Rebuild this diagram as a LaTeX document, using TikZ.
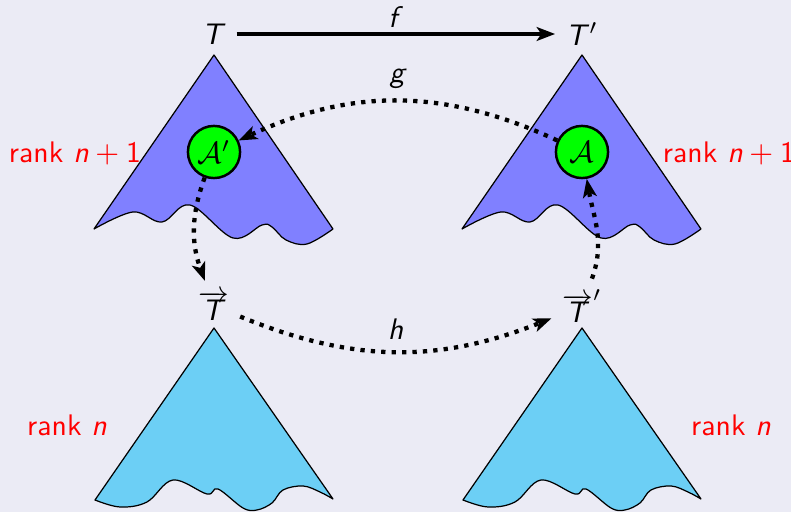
\documentclass[tikz,border=0pt]{standalone}
\usetikzlibrary{arrows.meta}
\definecolor{slidebg}{RGB}{235,235,245}
\definecolor{treeblue}{RGB}{128,128,255}
\definecolor{treecyan}{RGB}{108,207,245}
\newcommand{\sv}[1]{\textsf{\textit{#1}}}
\tikzset{
    upper tree/.pic={
        \filldraw[fill=#1, line join=round] (0,0) -- plot[smooth, tension=0.6] coordinates {
            (-120,-174) (-81,-157) (-52,-167) (-24,-150) (19,-183)
            (48,-170) (58,-172) (72,-185) (93,-189) (119,-174)} -- cycle;
    },
    lower tree/.pic={
        \filldraw[fill=#1, line join=round] (0,0) -- plot[smooth, tension=0.6] coordinates {
            (-119,-172) (-94,-179) (-67,-174) (-41,-152) (-7,-166) (4,-161)
            (29,-180) (43,-182) (58,-175) (69,-162) (89,-158) (106,-164) (119,-171)} -- cycle;
    }
}
\begin{document}
\begin{tikzpicture}[
        x=0.326pt, y=0.326pt,
        font=\fontsize{9.7pt}{11.5pt}\sffamily,
        >={Stealth[length=6pt,width=4.5pt,inset=1.5pt]},
        subtree/.style={circle, draw, thick, fill=green, minimum size=17pt, inner sep=0pt},
        rank/.style={text=red},
        map/.style={->, line width=1.2pt},
        dotmap/.style={->, line width=1.4pt, dotted}
    ]
        \useasboundingbox[fill=slidebg] (0,0) rectangle (791,512);
        \pic at (214,457) {upper tree=treeblue};
        \pic at (582,457) {upper tree=treeblue};
        \pic at (214,184) {lower tree=treecyan};
        \pic at (582,184) {lower tree=treecyan};
        \node (T) at (214,478) {\sv{T}};
        \node (Tp) at (582,478) {\sv{T}$'$};
        \node (vT) at (214,206) {$\overrightarrow{\mbox{\sv{T}}}$};
        \node (vTp) at (582,206) {$\overrightarrow{\mbox{\sv{T}}}'$};
        \node[subtree] (Ap) at (214,360) {$\mathcal{A}'$};
        \node[subtree] (A) at (582,360) {$\mathcal{A}$};
        \node[rank] (r1) at (75,359) {rank \sv{n}${}+{}$1};
        \node[rank] (r2) at (729,359) {rank \sv{n}${}+{}$1};
        \node[rank] (r3) at (67,87) {rank \sv{n}};
        \node[rank] (r4) at (731,87) {rank \sv{n}};
        \draw[map] (T) -- node[above, inner sep=1.5pt] {\sv{f}} (Tp);
        \draw[dotmap] (A) to[bend right=25] node[above] {\sv{g}} (Ap);
        \draw[dotmap] (Ap) to[out=250, in=110] (vT);
        \draw[dotmap] (vT) to[bend right=22] node[above] {\sv{h}} (vTp);
        \draw[dotmap] (vTp) to[out=70, in=-80] (A);
    \end{tikzpicture}
\end{document}
